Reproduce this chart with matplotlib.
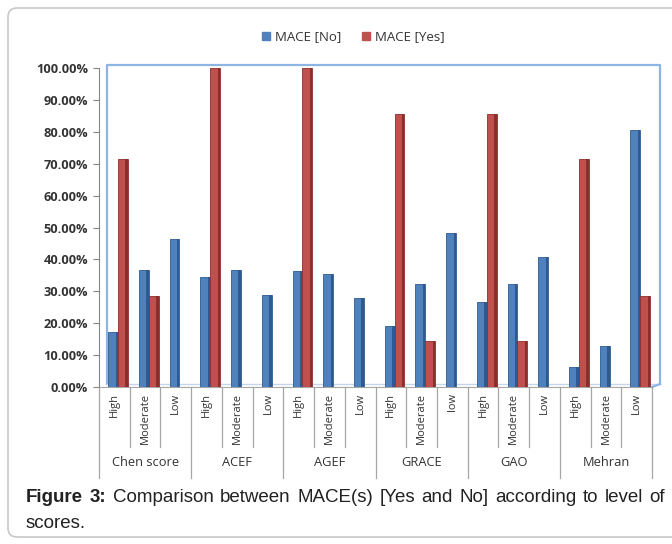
import numpy as np
import matplotlib
matplotlib.use("Agg")
from matplotlib import pyplot as plt
from matplotlib import transforms
from matplotlib.patches import FancyBboxPatch, Patch


groups = ["Chen score", "ACEF", "AGEF", "GRACE", "GAO", "Mehran"]
levels = [
  ["High", "Moderate", "Low"],
  ["High", "Moderate", "Low"],
  ["High", "Moderate", "Low"],
  ["High", "Moderate", "low"],
  ["High", "Moderate", "Low"],
  ["High", "Moderate", "Low"],
]
# percentages per level, in group order
maceNo = [17.3, 36.6, 46.3, 34.4, 36.6, 29.0, 36.4, 35.4, 27.9,
          19.1, 32.2, 48.2, 26.8, 32.2, 40.9, 6.3, 12.8, 80.6]
maceYes = [71.4, 28.6, 0.0, 100.0, 0.0, 0.0, 100.0, 0.0, 0.0,
           85.7, 14.3, 0.0, 85.7, 14.3, 0.0, 71.4, 0.0, 28.6]
yTicks = np.arange(0, 101, 10)

BLUE, BLUE_DARK = "#4F81BD", "#2F5A8F"
RED, RED_DARK = "#C0504D", "#8C2E2C"
WALL = "#8EB4E3"
TEXT = "#333333"
LABEL_FONT = ["Open Sans", "DejaVu Sans"]
CAPTION_FONT = ["Liberation Sans", "DejaVu Sans"]


def drawBars(ax, x, values, color, dark, width=0.32, side=0.08):
  # front face plus a darker strip on the right to fake the 3D side
  ax.bar(x, values, width=width, color=color, edgecolor=dark,
         linewidth=0.6, zorder=3)
  ax.bar(x + width / 2 - side / 2, values, width=side, color=dark,
         linewidth=0, zorder=4)


def justifiedLine(fig, words, x0, x1, y, size, boldFirst=0):
  """
  Place words on one line so they spread from pixel x0 to pixel x1.
  The first `boldFirst` words are drawn bold.
  """
  renderer = fig.canvas.get_renderer()
  W = fig.bbox.width
  items = []
  for i, w in enumerate(words):
    t = fig.text(0, y, w, fontsize=size, family=CAPTION_FONT,
                 fontweight="bold" if i < boldFirst else "normal",
                 color="#222222", va="baseline")
    items.append((t, t.get_window_extent(renderer).width))
  total = sum(wd for _, wd in items)
  gap = (x1 - x0 - total) / max(len(items) - 1, 1)
  pos = x0
  for t, wd in items:
    t.set_x(pos / W)
    pos += wd + gap


fig = plt.figure(figsize=(6.72, 5.44), dpi=100)

# rounded frame, running off the right edge of the canvas
frame = FancyBboxPatch((8, 7), 680, 529,
                       boxstyle="round,pad=0,rounding_size=9",
                       transform=transforms.IdentityTransform(),
                       facecolor="white", edgecolor="#C8C8C8", linewidth=1.2,
                       zorder=-5)
fig.patches.append(frame)

ax = fig.add_axes([99 / 672.0, 0.2886, 553 / 672.0, 0.586])
ax.patch.set_alpha(0)

nLevels = len(maceNo)
x = np.arange(nLevels)
depthShift = 0.12   # bars sit a little back from the front of the floor
drawBars(ax, x + depthShift - 0.16, maceNo, BLUE, BLUE_DARK)
drawBars(ax, x + depthShift + 0.16, maceYes, RED, RED_DARK)

ax.set_xlim(-0.5, nLevels - 0.5)
ax.set_ylim(0, 100)
ax.set_yticks(yTicks)
ax.set_yticklabels(["%.2f%%" % v for v in yTicks], color=TEXT,
                   fontsize=9.2, fontweight="bold", family=LABEL_FONT)
ax.tick_params(axis="y", direction="out", length=4, color="#868686", pad=4)
ax.set_xticks([])

for side in ["top", "right"]:
  ax.spines[side].set_visible(False)
ax.spines["left"].set_color("#868686")
ax.spines["bottom"].set_color("#A6A6A6")

# back wall of the 3D plot area, pushed a few pixels up and right
wallTrans = ax.transAxes + transforms.ScaledTranslation(
  0.08, 0.03, fig.dpi_scale_trans)
ax.plot([0, 0, 1, 1], [0, 1, 1, 0], transform=wallTrans, color=WALL,
        linewidth=1.6, clip_on=False, zorder=1)
ax.plot([0, 1], [0, 0], transform=wallTrans, color="#C5D6EC",
        linewidth=1.0, clip_on=False, zorder=1)
ax.plot([1, 1.0145], [0, 0.0094], transform=ax.transAxes, color=WALL,
        linewidth=1.6, clip_on=False, zorder=1)

# category axis: level labels, group labels and separator lines
trans = transforms.blended_transform_factory(ax.transData, ax.transAxes)
subLabels = [lvl for grp in levels for lvl in grp]
for i, lab in enumerate(subLabels):
  ax.text(i, -0.018, lab, transform=trans, rotation=90, ha="center",
          va="top", fontsize=8, color=TEXT, family=LABEL_FONT)

edges = np.arange(nLevels + 1) - 0.5
for k, xe in enumerate(edges):
  bottom = -0.285 if k % 3 == 0 else -0.188
  ax.plot([xe, xe], [0, bottom], transform=trans, color="#A6A6A6",
          linewidth=0.9, clip_on=False)

for g, name in enumerate(groups):
  ax.text(3 * g + 1, -0.238, name, transform=trans, ha="center",
          va="center", fontsize=9.3, color=TEXT, family=LABEL_FONT)

handles = [Patch(facecolor=BLUE, edgecolor=BLUE, label="MACE [No]"),
           Patch(facecolor=RED, edgecolor=RED, label="MACE [Yes]")]
fig.legend(handles=handles, loc="center", bbox_to_anchor=(0.526, 0.932),
           ncol=2, frameon=False, handlelength=0.6, handleheight=0.6,
           handletextpad=0.35, columnspacing=1.6,
           prop={"family": LABEL_FONT, "size": 9.5}, labelcolor=TEXT)

# caption: justified first line with a bold figure number
captionSize = 13.5
line1 = ("Figure 3: Comparison between MACE(s) [Yes and No] "
         "according to level of").split()
justifiedLine(fig, line1, 26, 665, 1 - 502 / 544.0, captionSize, boldFirst=2)
fig.text(26 / 672.0, 1 - 528 / 544.0, "scores.", fontsize=captionSize,
         family=CAPTION_FONT, color="#222222", va="baseline")

fig.savefig("out.png", dpi=100)
